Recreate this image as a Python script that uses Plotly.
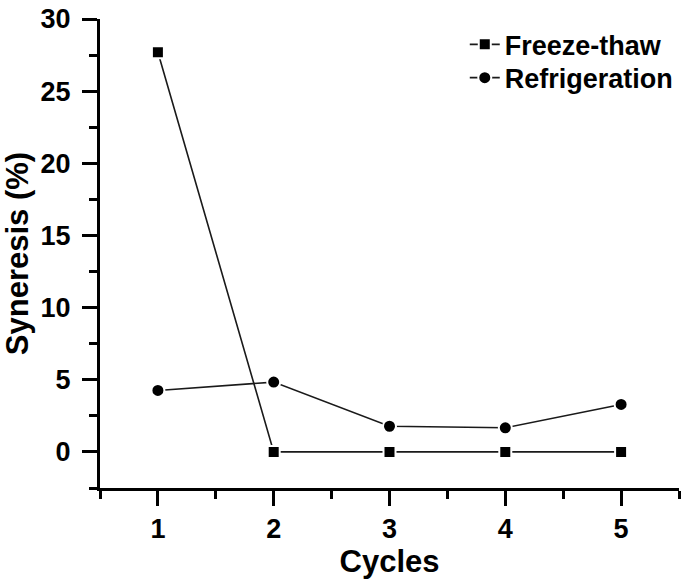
import plotly.graph_objects as go

cycles = [1, 2, 3, 4, 5]
freeze_thaw = [27.7, 0.0, 0.0, 0.0, 0.0]
refrigeration = [4.26, 4.84, 1.78, 1.67, 3.29]

FONT = "Liberation Sans, Arial, sans-serif"
fs = 27
tfs = 31

fig = go.Figure()
fig.add_trace(go.Scatter(x=cycles, y=freeze_thaw, mode="lines+markers", name="Freeze-thaw",
                         legend="legend",
                         line=dict(color="#1a1a1a", width=1.6),
                         marker=dict(symbol="square", size=12, color="black",
                                     line=dict(color="white", width=2))))
fig.add_trace(go.Scatter(x=cycles, y=refrigeration, mode="lines+markers", name="Refrigeration",
                         legend="legend2",
                         line=dict(color="#1a1a1a", width=1.6),
                         marker=dict(symbol="circle", size=13, color="black",
                                     line=dict(color="white", width=2))))

axis_common = dict(showline=True, linecolor="black", linewidth=3, ticks="outside",
                   ticklen=15, tickwidth=3, tickcolor="black", showgrid=False, zeroline=False,
                   tickfont=dict(family=FONT, size=fs, color="black", weight="bold"),
                   mirror=False, automargin=False)

legend_common = dict(xanchor="left", yanchor="middle", bgcolor="rgba(0,0,0,0)",
                     font=dict(family=FONT, size=fs, color="black", weight="bold"),
                     itemwidth=30)

fig.update_layout(
    width=685, height=585,
    margin=dict(l=100, r=6, t=19, b=97),
    plot_bgcolor="white", paper_bgcolor="white",
    font=dict(family=FONT, size=fs, color="black", weight="bold"),
    showlegend=True,
    legend=dict(x=0.63, y=0.945, **legend_common),
    legend2=dict(x=0.63, y=0.874, **legend_common),
    xaxis=dict(range=[0.5, 5.5], tickmode="array", tickvals=cycles,
               title=dict(text="Cycles", font=dict(family=FONT, size=tfs, color="black", weight="bold"), standoff=2),
               minor=dict(tick0=0.5, dtick=0.5, ticks="outside", ticklen=8, tickwidth=3, tickcolor="black"),
               ticklabelstandoff=0,
               **axis_common),
    yaxis=dict(range=[-2.5, 30], tickmode="linear", tick0=0, dtick=5,
               title=dict(text="Syneresis (%)", font=dict(family=FONT, size=tfs, color="black", weight="bold"), standoff=4),
               minor=dict(tick0=0, dtick=2.5, ticks="outside", ticklen=8, tickwidth=3, tickcolor="black"),
               ticklabelstandoff=6,
               **axis_common),
)

fig.write_html("out.html", config={"displayModeBar": False},
               post_script="document.body.style.margin='0';document.body.style.overflow='hidden';")
